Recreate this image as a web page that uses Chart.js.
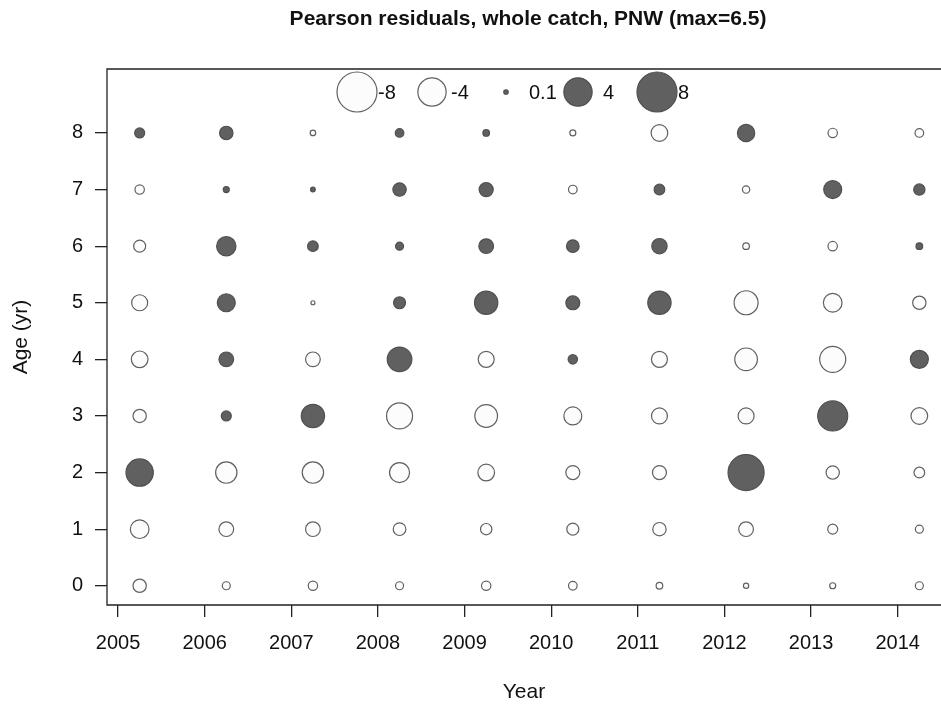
<!DOCTYPE html>
<html>
<head>
<meta charset="utf-8">
<script src="https://cdn.jsdelivr.net/npm/chart.js@4"></script>
<style>
	html, body { margin: 0; padding: 0; background: #fff; }
	canvas { display: block; }
</style>
</head>
<body>
<canvas id="grafico" width="941" height="706"></canvas>
<script>
// Anni e età
let anni = [2005, 2006, 2007, 2008, 2009, 2010, 2011, 2012, 2013, 2014];
let eta = [0, 1, 2, 3, 4, 5, 6, 7, 8];

// Residui di Pearson, una riga per età (0..8), una colonna per anno
let residuiEta0 = [-0.89, -0.32, -0.44, -0.32, -0.44, -0.37, -0.22, -0.14, -0.18, -0.32];
let residuiEta1 = [-1.74, -1.08, -1.08, -0.80, -0.64, -0.72, -0.89, -1.08, -0.50, -0.32];
let residuiEta2 = [3.73, -2.28, -2.28, -2.00, -1.39, -0.98, -0.98, 6.5, -0.89, -0.57];
let residuiEta3 = [-0.89, 0.50, 2.72, -3.38, -2.57, -1.62, -1.28, -1.28, 4.5, -1.39];
let residuiEta4 = [-1.39, 1.08, -1.08, 3.04, -1.28, 0.44, -1.28, -2.57, -3.38, 1.62];
let residuiEta5 = [-1.28, 1.62, -0.08, 0.72, 2.72, 0.98, 2.72, -2.88, -1.74, -0.89];
let residuiEta6 = [-0.72, 1.87, 0.57, 0.32, 1.08, 0.80, 1.18, -0.22, -0.44, 0.22];
let residuiEta7 = [-0.44, 0.18, 0.11, 0.90, 1.00, -0.37, 0.57, -0.27, 1.62, 0.64];
let residuiEta8 = [0.50, 0.90, -0.15, 0.37, 0.22, -0.18, -1.39, 1.50, -0.44, -0.37];

// Legenda
let legendaValori = [-8, -4, 0.1, 4, 8];
let legendaEtichette = ["-8", "-4", "0.1", "4", "8"];

let titolo = "Pearson residuals, whole catch, PNW (max=6.5)";
let spostamentoAnno = 0.25;

let residui = [residuiEta0, residuiEta1, residuiEta2, residuiEta3, residuiEta4,
	residuiEta5, residuiEta6, residuiEta7, residuiEta8];

const FONT = "Liberation Sans, Arial, sans-serif";
const PIENO = "rgb(96,96,96)";
const BORDO = "rgb(80,80,80)";
const VUOTO = "rgb(252,252,252)";

// raggio proporzionale alla radice del residuo (area ~ |valore|), |8| -> 20px
function raggio(v) {
	return 20 * Math.sqrt(Math.abs(v) / 8);
}

let punti = [];
eta.forEach((e, i) => {
	anni.forEach((a, j) => {
		punti.push({ x: a + spostamentoAnno, y: e, v: residui[i][j] });
	});
});

// Titolo, cornice (solo sinistra, sopra, sotto) e legenda dentro il grafico
const cornice = {
	id: 'cornice',
	afterDraw(chart) {
		let ctx = chart.ctx;
		let a = chart.chartArea;
		ctx.save();

		ctx.font = "bold 21px " + FONT;
		ctx.fillStyle = "#111";
		ctx.textAlign = "center";
		ctx.textBaseline = "middle";
		ctx.fillText(titolo, (a.left + a.right) / 2 + 4, 19);

		ctx.strokeStyle = "#222";
		ctx.lineWidth = 1.3;
		ctx.beginPath();
		ctx.moveTo(a.right + 5, a.top);
		ctx.lineTo(a.left, a.top);
		ctx.lineTo(a.left, a.bottom);
		ctx.lineTo(a.right + 5, a.bottom);
		ctx.stroke();

		// legenda
		let centri = [357, 432, 506, 578, 657];
		let testi = [378, 451, 529, 603, 678];
		let yLeg = a.top + 23;
		ctx.font = "20px " + FONT;
		ctx.textAlign = "left";
		legendaValori.forEach((v, i) => {
			ctx.beginPath();
			ctx.arc(centri[i], yLeg, raggio(v), 0, Math.PI * 2);
			ctx.fillStyle = v > 0 ? PIENO : VUOTO;
			ctx.fill();
			ctx.lineWidth = 1.2;
			ctx.strokeStyle = v > 0 ? BORDO : PIENO;
			ctx.stroke();
			ctx.fillStyle = "#111";
			ctx.fillText(legendaEtichette[i], testi[i], yLeg + 1);
		});
		ctx.restore();
	}
};

new Chart(document.getElementById("grafico"), {
	type: 'bubble',
	data: {
		datasets: [{
			data: punti,
			radius: (c) => raggio(c.raw.v),
			hoverRadius: (c) => raggio(c.raw.v),
			backgroundColor: (c) => c.raw.v > 0 ? PIENO : VUOTO,
			borderColor: (c) => c.raw.v > 0 ? BORDO : PIENO,
			borderWidth: 1.2,
		}]
	},
	options: {
		responsive: false,
		animation: false,
		layout: { autoPadding: false, padding: { left: 0, right: 0, top: 69, bottom: 0 } },
		plugins: {
			legend: { display: false },
			tooltip: { enabled: false },
			title: { display: false },
		},
		scales: {
			x: {
				type: 'linear',
				min: 2004.873,
				max: 2014.5,
				afterFit: (s) => { s.height = 101; s.paddingLeft = 0; s.paddingRight = 0; },
				afterBuildTicks: (s) => { s.ticks = anni.map(v => ({ value: v })); },
				grid: { drawOnChartArea: false, drawTicks: true, tickLength: 12, color: "#222", lineWidth: 1.3 },
				border: { display: false },
				ticks: {
					color: "#111",
					font: { family: FONT, size: 20 },
					padding: 14,
					maxRotation: 0,
					callback: (v) => String(v),
				},
				title: {
					display: true,
					text: "Year",
					color: "#111",
					font: { family: FONT, size: 21 },
					padding: { top: 0, bottom: 1 },
				},
			},
			y: {
				type: 'linear',
				min: -0.34,
				max: 9.13,
				afterFit: (s) => { s.width = 107; s.paddingTop = 0; s.paddingBottom = 0; },
				afterBuildTicks: (s) => { s.ticks = eta.map(v => ({ value: v })); },
				grid: { drawOnChartArea: false, drawTicks: true, tickLength: 12, color: "#222", lineWidth: 1.3 },
				border: { display: false },
				ticks: {
					color: "#111",
					font: { family: FONT, size: 20 },
					padding: 12,
					callback: (v) => String(v),
				},
				title: {
					display: true,
					text: "Age (yr)",
					color: "#111",
					font: { family: FONT, size: 21 },
					padding: { top: 9, bottom: 0 },
				},
			},
		},
	},
	plugins: [cornice],
});
</script>
</body>
</html>
